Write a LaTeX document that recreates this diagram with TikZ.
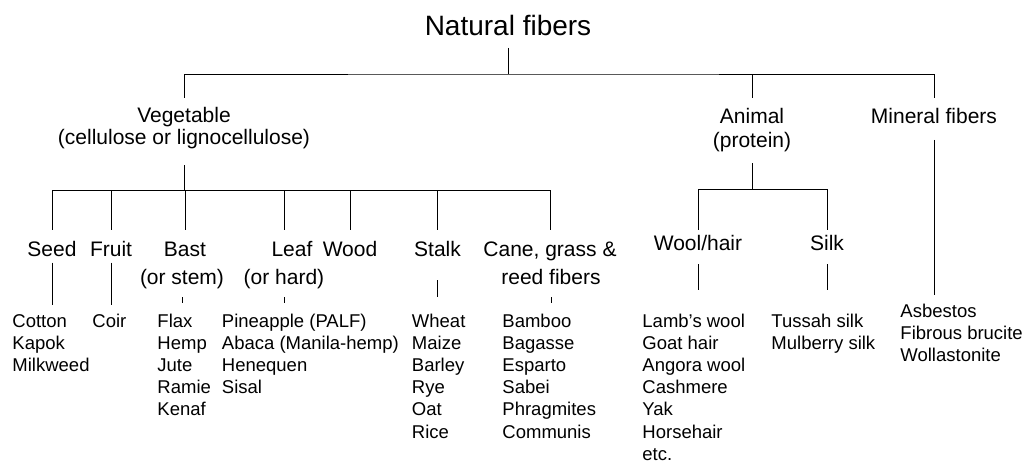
\documentclass[tikz,border=0pt]{standalone}
\usepackage{fontspec}
\setmainfont{Liberation Sans}

\begin{document}
\begin{tikzpicture}[x=1pt,y=-1pt,line width=.9pt,
  head/.style={font=\fontsize{21}{25}\selectfont,inner sep=0pt,anchor=base},
  item/.style={font=\fontsize{18.5}{22}\selectfont,inner sep=0pt,anchor=base west}]
\useasboundingbox (0,0) rectangle (1036,468);
% headings
\node[head,font=\fontsize{28}{32}\selectfont] (nat) at (508,36) {Natural fibers};
\node[head] (veg) at (184,123) {Vegetable};
\node[head] (vegsub) at (184,145) {(cellulose or lignocellulose)};
\node[head] (ani) at (752,123.5) {Animal};
\node[head] (anisub) at (752,147) {(protein)};
\node[head] (min) at (934,124) {Mineral fibers};
\node[head] (seed) at (52,256.5) {Seed};
\node[head] (fruit) at (111,256.5) {Fruit};
\node[head] (bast) at (185,256.5) {Bast};
\node[head] (bast2) at (182,284) {(or stem)};
\node[head] (leaf) at (292,256.5) {Leaf};
\node[head] (leaf2) at (284,284) {(or hard)};
\node[head] (wood) at (350,256.5) {Wood};
\node[head] (stalk) at (437.5,256.5) {Stalk};
\node[head] (cane) at (550,256.5) {Cane, grass \&};
\node[head] (cane2) at (551,284) {reed fibers};
\node[head] (wool) at (698,250.5) {Wool/hair};
\node[head] (silk) at (827,250.5) {Silk};
% lists
\foreach \nm/\x/\y/\lst in {cot/12/327/{Cotton,Kapok,Milkweed},
    coir/92/327/{Coir},
    flax/157/327/{Flax,Hemp,Jute,Ramie,Kenaf},
    pine/221.5/327/{Pineapple (PALF),Abaca (Manila-hemp),Henequen,Sisal},
    wheat/411.5/327/{Wheat,Maize,Barley,Rye,Oat,Rice},
    bamb/502/327/{Bamboo,Bagasse,Esparto,Sabei,Phragmites,Communis},
    lamb/642/327/{Lamb's wool,Goat hair,Angora wool,Cashmere,Yak,Horsehair,etc.},
    tuss/771/327/{Tussah silk,Mulberry silk},
    asb/900/317/{Asbestos,Fibrous brucite,Wollastonite}}
  \foreach \t [count=\i from 0] in \lst
    \node[item] (\nm\i) at (\x,\y+22.2*\i) {\t};
% top level
\coordinate (top) at (508,74);
\draw (nat.base) ++(0,12) -- (top);
\draw ([yshift=25pt]veg.base) |- (top) -| ([yshift=26pt]min.base);
\draw ([yshift=25.5pt]ani.base) -- (ani |- top);
% vegetable
\coordinate (vegbus) at (184,190);
\coordinate (vegend) at (0,230);
\draw ([yshift=-20pt]vegsub.base) -- (vegbus);
\draw (seed |- vegbus) -- (cane |- vegbus);
\foreach \n in {seed,fruit,bast,leaf2,wood,stalk,cane}
  \draw (\n |- vegbus) -- (\n |- vegend);
\draw ([yshift=-6pt]seed.base) -- ++(0,42);
\draw ([yshift=-6pt]fruit.base) -- ++(0,42);
\foreach \n in {bast2,leaf2,cane2}
  \draw ([yshift=-13pt]\n.base) -- ++(0,6);
\draw ([yshift=-23.5pt]stalk.base) -- ++(0,17);
% animal
\coordinate (anibus) at (752,189);
\coordinate (aniend) at (0,230);
\draw ([yshift=-16pt]anisub.base) -- (anibus);
\draw (wool |- anibus) -- (silk |- anibus);
\foreach \n in {wool,silk}{
  \draw (\n |- anibus) -- (\n |- aniend);
  \draw ([yshift=-13.5pt]\n.base) -- ++(0,26);}
% mineral
\draw ([yshift=-16pt]min.base) -- ++(0,155);
\end{tikzpicture}
\end{document}
